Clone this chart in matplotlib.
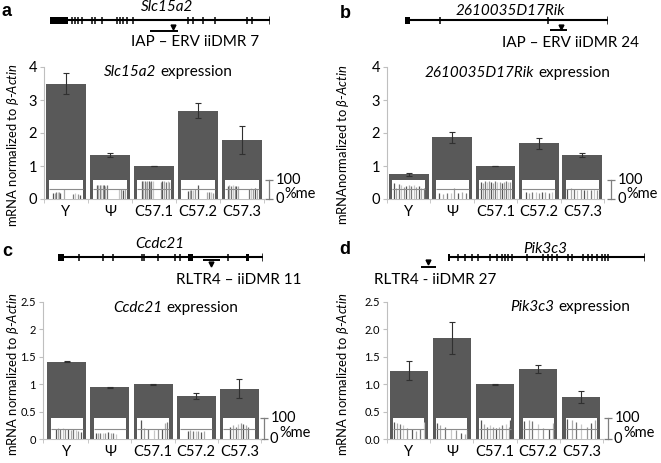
import numpy as np
import matplotlib
matplotlib.use("Agg")
import matplotlib.pyplot as plt
from matplotlib.patches import Rectangle
from matplotlib.transforms import blended_transform_factory, ScaledTranslation
from matplotlib.offsetbox import TextArea, HPacker, AnnotationBbox

plt.rcParams['font.family'] = ['Lato', 'DejaVu Sans']
plt.rcParams['mathtext.fontset'] = 'custom'
plt.rcParams['mathtext.it'] = 'Lato:italic'
plt.rcParams['mathtext.rm'] = 'Lato'

W, H = 661, 463

# ---- data ----
samples = ['Y', 'Ψ', 'C57.1', 'C57.2', 'C57.3']

a_vals = [3.5, 1.33, 1.0, 2.68, 1.78]
a_errs = [0.33, 0.05, 0.01, 0.22, 0.42]
b_vals = [0.75, 1.87, 1.0, 1.69, 1.33]
b_errs = [0.05, 0.17, 0.01, 0.16, 0.05]
c_vals = [1.41, 0.94, 1.0, 0.785, 0.92]
c_errs = [0.01, 0.01, 0.01, 0.05, 0.17]
d_vals = [1.25, 1.84, 1.0, 1.28, 0.77]
d_errs = [0.18, 0.29, 0.01, 0.07, 0.11]

# CpG methylation per sample: (position within bar, fraction methylated)
a_meth = [
    ([0.13, 0.17, 0.21, 0.25, 0.29, 0.33, 0.44, 0.72, 0.78, 0.86, 0.92],
     [0.3, 0.33, 0.35, 0.36, 0.35, 0.33, 0.5, 0.25, 0.3, 0.27, 0.22]),
    ([0.12, 0.16, 0.2, 0.24, 0.28, 0.32, 0.36, 0.41, 0.76, 0.82, 0.88, 0.94],
     [0.72, 0.75, 0.74, 0.75, 0.72, 0.74, 0.7, 0.72, 0.5, 0.52, 0.48, 0.5]),
    ([0.14, 0.18, 0.22, 0.26, 0.3, 0.34, 0.38, 0.42, 0.47, 0.71, 0.75, 0.8, 0.85, 0.9, 0.95],
     [0.95, 0.92, 0.95, 0.9, 0.95, 0.93, 0.9, 0.95, 0.92, 0.9, 0.92, 0.95, 0.9, 0.92, 0.9]),
    ([0.2, 0.25, 0.3, 0.36, 0.42, 0.5, 0.76, 0.82, 0.88, 0.94],
     [0.4, 0.45, 0.48, 0.45, 0.5, 0.75, 0.35, 0.38, 0.35, 0.3]),
    ([0.08, 0.13, 0.18, 0.23, 0.28, 0.33, 0.38, 0.7, 0.76, 0.82, 0.88, 0.94],
     [0.7, 0.72, 0.7, 0.72, 0.7, 0.68, 0.7, 0.5, 0.55, 0.5, 0.55, 0.5]),
]
b_meth = [
    ([0.05, 0.12, 0.2, 0.28, 0.35, 0.42, 0.5, 0.58, 0.65, 0.73, 0.8, 0.88, 0.95],
     [0.85, 0.6, 0.8, 0.75, 0.65, 0.7, 0.75, 0.7, 0.72, 0.65, 0.7, 0.6, 0.55]),
    ([0.1, 0.22, 0.35, 0.48, 0.55, 0.68, 0.8, 0.92],
     [0.3, 0.25, 0.3, 0.3, 0.55, 0.3, 0.35, 0.3]),
    ([0.05, 0.11, 0.17, 0.24, 0.3, 0.37, 0.43, 0.5, 0.56, 0.63, 0.7, 0.76, 0.83, 0.89, 0.95],
     [0.9, 0.85, 0.92, 0.88, 0.95, 0.9, 0.85, 0.92, 0.9, 0.88, 0.85, 0.9, 0.92, 0.88, 0.9]),
    ([0.1, 0.2, 0.3, 0.4, 0.5, 0.6, 0.7, 0.8, 0.9],
     [0.35, 0.3, 0.38, 0.35, 0.3, 0.35, 0.38, 0.32, 0.35]),
    ([0.05, 0.15, 0.25, 0.35, 0.45, 0.55, 0.65, 0.75, 0.85, 0.95],
     [0.5, 0.55, 0.5, 0.48, 0.5, 0.45, 0.48, 0.45, 0.5, 0.45]),
]
c_meth = [
    ([0.15, 0.22, 0.3, 0.38, 0.45, 0.55, 0.62, 0.7, 0.78, 0.86, 0.94],
     [0.5, 0.55, 0.5, 0.55, 0.5, 0.5, 0.45, 0.5, 0.45, 0.4, 0.35]),
    ([0.05, 0.12, 0.2, 0.28, 0.36, 0.44, 0.52, 0.6, 0.68],
     [0.3, 0.3, 0.28, 0.3, 0.3, 0.32, 0.3, 0.28, 0.25]),
    ([0.12, 0.22, 0.35, 0.52, 0.65, 0.78, 0.87, 0.95],
     [0.9, 0.55, 0.5, 0.45, 0.5, 0.5, 0.75, 0.8]),
    ([0.25, 0.32, 0.4, 0.48, 0.56, 0.64, 0.75],
     [0.4, 0.42, 0.4, 0.38, 0.4, 0.35, 0.4]),
    ([0.22, 0.3, 0.38, 0.46, 0.54, 0.62, 0.7, 0.78],
     [0.6, 0.65, 0.6, 0.7, 0.75, 0.7, 0.65, 0.6]),
]
d_meth = [
    ([0.03, 0.12, 0.22, 0.31, 0.46, 0.6, 0.74, 0.88, 0.98],
     [0.8, 0.75, 0.7, 0.65, 0.55, 0.5, 0.4, 0.5, 0.8]),
    ([0.03, 0.13, 0.28, 0.48, 0.63, 0.78, 0.93, 0.98],
     [0.75, 0.65, 0.6, 0.5, 0.45, 0.3, 0.25, 0.45]),
    ([0.04, 0.14, 0.24, 0.34, 0.44, 0.54, 0.64, 0.74, 0.84, 0.94, 0.99],
     [0.9, 0.7, 0.6, 0.65, 0.6, 0.55, 0.6, 0.65, 0.7, 0.6, 0.9]),
    ([0.05, 0.19, 0.29, 0.48, 0.67, 0.86, 0.97],
     [0.85, 0.9, 0.85, 0.7, 0.55, 0.5, 0.75]),
    ([0.03, 0.19, 0.33, 0.48, 0.67, 0.81, 0.95],
     [0.95, 0.9, 0.8, 0.7, 0.6, 0.75, 0.9]),
]

# gene models (positions as fraction of gene length)
a_exons = [0.10, 0.114, 0.127, 0.145, 0.19, 0.205, 0.236, 0.305, 0.318, 0.332,
           0.35, 0.377, 0.627, 0.65, 0.695, 0.75, 0.895, 0.918]
a_blocks = [(0.0, 0.082)]
b_exons = [0.172, 0.704]
b_blocks = [(0.0, 0.025)]
c_exons = [0.102, 0.22, 0.268, 0.41, 0.42, 0.488, 0.571, 0.595, 0.83]
c_blocks = [(0.0, 0.03), (0.634, 0.66), (0.915, 0.93)]
d_exons = [0.05, 0.086, 0.122, 0.152, 0.213, 0.249, 0.274, 0.289, 0.305, 0.325,
           0.401, 0.482, 0.508, 0.528, 0.553, 0.609, 0.629, 0.685, 0.711, 0.731,
           0.756, 0.782, 0.797, 0.812]
d_blocks = [(0.0, 0.012)]
# iiDMR: (start, end, triangle)
a_dmr = (0.455, 0.582, 0.56)
b_dmr = (0.714, 0.798, 0.768)
c_dmr = (0.707, 0.79, 0.746)
d_dmr = (-0.137, -0.061, -0.10)

fig = plt.figure(figsize=(W / 100, H / 100), dpi=100)


def px_rect(l, r, top, bot):
    return [l / W, 1 - bot / H, (r - l) / W, (bot - top) / H]


def ftext(x, y, s, **kw):
    fig.text(x / W, 1 - y / H, s, **kw)


def mixed_title(x, y, gene, rest, size=11):
    # italic gene name followed by upright text, centred on (x, y) pixels
    box = HPacker(children=[TextArea(gene, textprops=dict(fontsize=size, style='italic')),
                            TextArea(rest, textprops=dict(fontsize=size))],
                  pad=0, sep=3, align='baseline')
    ab = AnnotationBbox(box, (x / W, 1 - y / H), xycoords='figure fraction',
                        frameon=False, box_alignment=(0.5, 0.5), pad=0)
    fig.add_artist(ab)


shades = ['#555555', '#aaaaaa', '#777777', '#c8c8c8', '#999999']


def bar_panel(rect, vals, errs, meth, ylim, yticks, yticklabels, tick_fs,
              box_h, bw, x0, brk_dx):
    ax = fig.add_axes(rect)
    x = np.arange(len(vals))
    ax.bar(x, vals, width=bw, color='#595959', zorder=2)
    ax.errorbar(x, vals, yerr=errs, fmt='none', ecolor='#303030',
                elinewidth=0.8, capsize=2, capthick=0.8, zorder=6)
    m = 0.08
    for i in range(len(vals)):
        left = i - bw / 2 + m
        w = bw - 2 * m
        ax.add_patch(Rectangle((left, 0), w, box_h, fc='white', ec='none', zorder=3))
        ax.hlines(box_h / 2, left, left + w, color='#8c8c8c', lw=0.8, zorder=5)
        pos, lev = meth[i]
        cols = [shades[k % len(shades)] for k in range(len(pos))]
        ax.vlines([left + p * w for p in pos], 0, [l * box_h for l in lev],
                  colors=cols, lw=0.9, zorder=4)
    ax.set_xlim(x0, 4.5)
    ax.set_ylim(*ylim)
    ax.set_yticks(yticks)
    ax.set_yticklabels(yticklabels, fontsize=tick_fs)
    ax.set_xticks(x)
    ax.set_xticklabels(samples, fontsize=10.5)
    ax.set_xticks([x0, 0.5, 1.5, 2.5, 3.5, 4.5], minor=True)
    for s in ['top', 'right']:
        ax.spines[s].set_visible(False)
    for s in ['left', 'bottom']:
        ax.spines[s].set_color('#bfbfbf')
        ax.spines[s].set_linewidth(0.8)
    ax.tick_params(axis='y', direction='out', length=3, color='#bfbfbf', pad=2)
    ax.tick_params(axis='x', which='major', length=0, pad=4)
    ax.tick_params(axis='x', which='minor', length=3, color='#bfbfbf')
    # methylation scale bracket
    tr = blended_transform_factory(ax.transAxes, ax.transData)
    off = lambda dx: tr + ScaledTranslation(dx / 100, 0, fig.dpi_scale_trans)
    ax.plot([1, 1], [0, box_h], color='#7f7f7f', lw=0.9, transform=off(brk_dx), clip_on=False)
    ax.plot([1, 1], [0, box_h], color='#7f7f7f', lw=0, marker='_', ms=6, mew=0.9,
            transform=off(brk_dx), clip_on=False)
    ax.text(1, box_h, '100', transform=off(brk_dx + 7), fontsize=10.5, va='center', ha='left')
    ax.text(1, box_h * 0.28, '%me', transform=off(brk_dx + 15), fontsize=10.5, va='center', ha='left')
    ax.text(1, 0, '0', transform=off(brk_dx + 6), fontsize=10.5, va='center', ha='left')
    return ax


def gene_panel(x_start, x_end, y_line, exons, blocks, dmr, dmr_offsets):
    ax = fig.add_axes(px_rect(x_start, x_end, y_line - 16, y_line + 16))
    ax.set_xlim(0, 1)
    ax.set_ylim(16, -16)
    ax.axis('off')
    ax.hlines(0, 0, 1, color='black', lw=1.5)
    ax.vlines(exons, -3.5, 3.5, color='black', lw=1.1)
    ax.vlines([1.0], -4, 4, color='black', lw=1.8)
    for b0, b1 in blocks:
        ax.add_patch(Rectangle((b0, -3.5), b1 - b0, 7, fc='black', ec='none'))
    bar_y, tri_y = dmr_offsets
    ax.hlines(bar_y, dmr[0], dmr[1], color='black', lw=1.4, clip_on=False)
    ax.plot([dmr[2]], [tri_y], marker='v', ms=3.5, color='black', clip_on=False)
    return ax


# bar panels
bar_panel(px_rect(44, 264, 67, 199), a_vals, a_errs, a_meth, (0, 4),
          [0, 1, 2, 3, 4], ['0', '1', '2', '3', '4'], 10.5, 0.58, 0.93, -0.5, 5)
bar_panel(px_rect(387, 604, 67, 199), b_vals, b_errs, b_meth, (0, 4),
          [0, 1, 2, 3, 4], ['0', '1', '2', '3', '4'], 10.5, 0.58, 0.92, -0.5, 7)
bar_panel(px_rect(43, 261, 302, 439), c_vals, c_errs, c_meth, (0, 2.5),
          [0, 0.5, 1, 1.5, 2, 2.5], ['0', '0.5', '1', '1.5', '2', '2.5'], 8, 0.38, 0.9, -0.55, 3)
bar_panel(px_rect(387, 603, 302, 439), d_vals, d_errs, d_meth, (0, 2.5),
          [0, 0.5, 1, 1.5, 2, 2.5], ['0.0', '0.5', '1.0', '1.5', '2.0', '2.5'], 8, 0.38, 0.88, -0.5, 5)

# gene models
gene_panel(50, 270, 20, a_exons, a_blocks, a_dmr, (11, 7))
gene_panel(405, 608, 20, b_exons, b_blocks, b_dmr, (10, 7))
gene_panel(58, 263, 257, c_exons, c_blocks, c_dmr, (3, 7))
gene_panel(448, 645, 257, d_exons, d_blocks, d_dmr, (10, 5))

# panel letters
for lx, ly, s in [(7, 12, 'a'), (345, 13, 'b'), (7, 251, 'c'), (345, 250, 'd')]:
    ftext(lx, ly, s, fontsize=13, fontweight='bold', family='Liberation Sans',
          ha='center', va='center')

# gene names
ftext(167, 7, 'Slc15a2', fontsize=11, style='italic', ha='center', va='center')
ftext(510, 11, '2610035D17Rik', fontsize=11, style='italic', ha='center', va='center')
ftext(160, 244, 'Ccdc21', fontsize=11, style='italic', ha='center', va='center')
ftext(545, 249, 'Pik3c3', fontsize=11, style='italic', ha='center', va='center')

# DMR labels
ftext(195, 42, 'IAP – ERV iiDMR 7', fontsize=11, ha='center', va='center')
ftext(570, 43, 'IAP – ERV iiDMR 24', fontsize=11, ha='center', va='center')
ftext(239, 280, 'RLTR4 – iiDMR 11', fontsize=11, ha='center', va='center')
ftext(435, 280, 'RLTR4 - iiDMR 27', fontsize=11, ha='center', va='center')

# expression titles
mixed_title(168, 72, 'Slc15a2', 'expression')
mixed_title(517, 73, '2610035D17Rik', 'expression')
mixed_title(176, 308, 'Ccdc21', 'expression')
mixed_title(570, 307, 'Pik3c3', 'expression')

# y labels
ylab = r'mRNA normalized to $\mathit{\beta}$-$\mathit{Actin}$'
ylab_b = r'mRNAnormalized to $\mathit{\beta}$-$\mathit{Actin}$'
ftext(13, 145, ylab, fontsize=9.4, rotation=90, ha='center', va='center')
ftext(343, 145, ylab_b, fontsize=9.4, rotation=90, ha='center', va='center')
ftext(13, 374, ylab, fontsize=9.4, rotation=90, ha='center', va='center')
ftext(343, 374, ylab, fontsize=9.4, rotation=90, ha='center', va='center')

fig.savefig('out.png', dpi=100)
